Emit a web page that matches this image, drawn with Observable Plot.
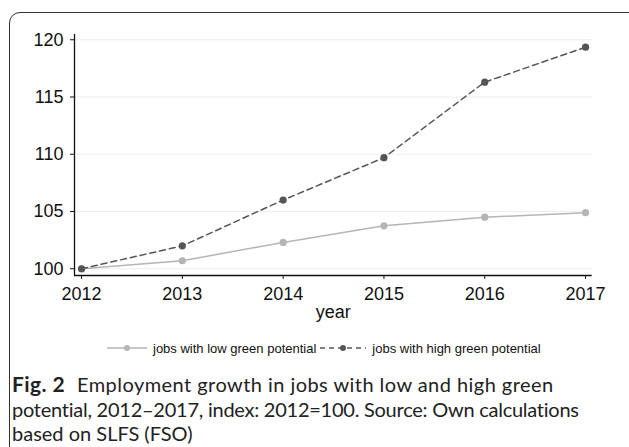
<!DOCTYPE html>
<html>
<head>
<meta charset="utf-8">
<script src="https://cdn.jsdelivr.net/npm/d3@7"></script>
<script src="https://cdn.jsdelivr.net/npm/@observablehq/plot@0.6"></script>
<style>
  html, body { margin: 0; padding: 0; background: #fff; width: 629px; height: 447px; overflow: hidden; position: relative; }
  #frame { position: absolute; left: 9px; top: 12px; width: 640px; height: 480px; border: 1.5px solid #333; border-radius: 11px; box-sizing: border-box; }
  #chart { position: absolute; left: 0; top: 0; }
  #legend { position: absolute; left: 107px; top: 340px; height: 16px; font-family: "Liberation Sans", Arial, sans-serif; font-size: 13px; color: #111; display: flex; align-items: center; white-space: nowrap; }
  #legend .item { display: flex; align-items: center; margin-right: 4px; }
  #caption { position: absolute; left: 12px; top: 372px; width: 620px; white-space: nowrap; font-family: Lato, "Open Sans", sans-serif; font-size: 20px; line-height: 24.5px; color: #222; }
  #caption b { font-weight: 700; margin-right: 12px; font-size: 21px; letter-spacing: 0.4px; }
  #caption .l1 { letter-spacing: 0.45px; }
  #caption .l2 { letter-spacing: -0.25px; }
</style>
</head>
<body>
<div id="frame"></div>
<div id="chart"></div>
<div id="legend"></div>
<div id="caption"><span class="l1"><b>Fig. 2</b>Employment growth in jobs with low and high green</span><br><span class="l2">potential, 2012–2017, index: 2012=100. Source: Own calculations</span><br><span>based on SLFS (FSO)</span></div>
<script>
const years = [2012, 2013, 2014, 2015, 2016, 2017];
const lowGreen = [100, 100.7, 102.3, 103.75, 104.5, 104.9];
const highGreen = [100, 102.0, 106.0, 109.7, 116.3, 119.35];
const yTicks = [100, 105, 110, 115, 120];
const seriesNames = ["jobs with low green potential", "jobs with high green potential"];
const xLabel = "year";

const lowData = years.map((y, i) => ({year: y, value: lowGreen[i]}));
const highData = years.map((y, i) => ({year: y, value: highGreen[i]}));

const xDomain = [2011.93, 2017.066];
const yDomain = [99.41, 120.46];

const lowColor = "#b5b5b5";
const highColor = "#555555";

const chart = Plot.plot({
  width: 629,
  height: 330,
  marginLeft: 74,
  marginRight: 37.3,
  marginTop: 34,
  marginBottom: 55,
  style: { fontFamily: "'Liberation Sans', Arial, sans-serif", fontSize: "18px", color: "#111", background: "transparent" },
  x: { domain: xDomain },
  y: { domain: yDomain },
  marks: [
    Plot.gridY(yTicks, { stroke: "#eeeeee", strokeOpacity: 1, strokeWidth: 1 }),
    Plot.ruleX([xDomain[0]], { stroke: "#111", strokeWidth: 1.3 }),
    Plot.ruleY([yDomain[0]], { stroke: "#111", strokeWidth: 1.3 }),
    Plot.axisY(yTicks, { tickSize: 4, tickPadding: 7, label: null, fontSize: 18, stroke: "#111" }),
    Plot.axisX(years, { tickSize: 4, tickPadding: 8, tickFormat: d => String(d), label: null, fontSize: 18, stroke: "#111" }),
    Plot.text([xLabel], { frameAnchor: "bottom", dy: 37, text: d => d, fontSize: 18, fill: "#111", lineAnchor: "middle" }),
    Plot.line(lowData, { x: "year", y: "value", stroke: lowColor, strokeWidth: 1.5 }),
    Plot.dot(lowData, { x: "year", y: "value", fill: lowColor, r: 3.6 }),
    Plot.line(highData, { x: "year", y: "value", stroke: highColor, strokeWidth: 1.5, strokeDasharray: "6,4" }),
    Plot.dot(highData, { x: "year", y: "value", fill: highColor, r: 3.6 })
  ]
});
document.getElementById("chart").append(chart);

// legend
const legend = d3.select("#legend");
const items = [
  { name: seriesNames[0], color: lowColor, dash: null, w: 40 },
  { name: seriesNames[1], color: highColor, dash: "5,4", w: 46 }
];
items.forEach(it => {
  const item = legend.append("div").attr("class", "item");
  const s = item.append("svg").attr("width", it.w).attr("height", 10).style("margin-right", "6px");
  s.append("line").attr("x1", 0).attr("x2", it.w).attr("y1", 5).attr("y2", 5)
    .attr("stroke", it.color).attr("stroke-width", 1.3).attr("stroke-dasharray", it.dash);
  s.append("circle").attr("cx", it.w / 2).attr("cy", 5).attr("r", 3).attr("fill", it.color);
  item.append("span").text(it.name);
});
</script>
</body>
</html>
